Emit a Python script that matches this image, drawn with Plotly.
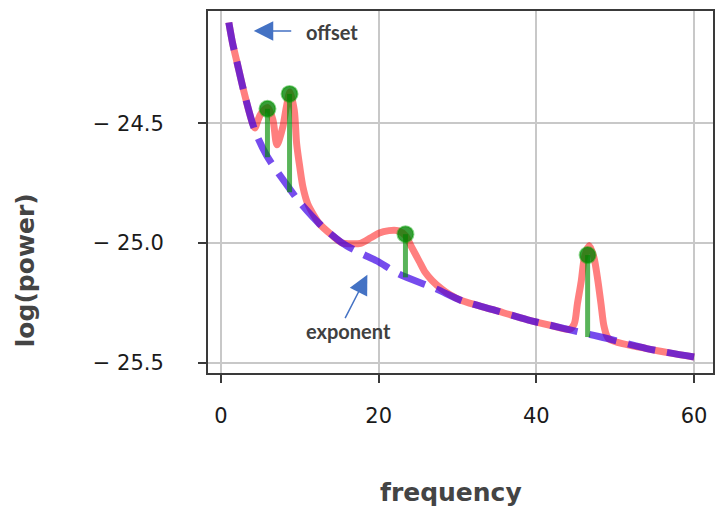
import plotly.graph_objects as go

# Aperiodic fit (offset / exponent component)
ap_freqs = [1, 1.5, 2, 3, 4.3, 5.8, 8.3, 10, 12.5, 15.4, 17.9, 19.8, 22.6,
            27.2, 30.5, 34.7, 38.9, 44, 47.3, 49.2, 54, 60]
ap_power = [-24.08, -24.17, -24.24, -24.38, -24.53, -24.635, -24.755, -24.83,
            -24.92, -25.00, -25.045, -25.075, -25.13, -25.19, -25.24, -25.28,
            -25.32, -25.36, -25.385, -25.40, -25.44, -25.475]

# Full model fit (aperiodic + peaks)
model_freqs = [1, 1.5, 2, 3, 4.0, 4.3, 4.7, 5.1, 5.95, 6.6, 7.1, 7.85, 8.3,
               8.75, 9.3, 9.6, 10.0, 10.4, 11.0, 11.8, 12.5, 14, 15.4, 16.3,
               17.7, 19.0, 20.0, 21.3, 22.4, 23.4, 24.2, 25.1, 25.9, 26.8,
               28.0, 29.0, 30.5, 34.7, 38.9, 42, 44.2, 44.8, 45.2, 45.7, 46.1,
               46.7, 47.3, 47.8, 48.2, 48.6, 49.2, 54, 60]
model_power = [-24.08, -24.17, -24.24, -24.38, -24.50, -24.52, -24.487,
               -24.459, -24.435, -24.487, -24.59, -24.515, -24.432, -24.37,
               -24.446, -24.585, -24.683, -24.766, -24.836, -24.885, -24.92,
               -24.965, -25.0, -25.003, -25.001, -24.978, -24.959, -24.948,
               -24.948, -24.969, -25.018, -25.073, -25.122, -25.157, -25.192,
               -25.215, -25.24, -25.28, -25.32, -25.345, -25.36, -25.338,
               -25.254, -25.157, -25.06, -25.01, -25.06, -25.157, -25.254,
               -25.35, -25.40, -25.44, -25.475]

# Detected peaks: centre frequency, peak power and aperiodic power beneath
peak_freqs = [5.9, 8.7, 23.4, 46.5]
peak_power = [-24.44, -24.378, -24.963, -25.05]
peak_base = [-24.642, -24.788, -25.143, -25.392]

x_tick_vals = [0, 20, 40, 60]
x_tick_text = ["0", "20", "40", "60"]
y_tick_vals = [-24.5, -25.0, -25.5]
y_tick_text = ["\u2212 24.5", "\u2212 25.0", "\u2212 25.5"]

fig = go.Figure()

fig.add_trace(go.Scatter(
    x=model_freqs, y=model_power, mode="lines",
    line=dict(color="rgba(255,0,0,0.5)", width=7, shape="spline", smoothing=0.8),
    hoverinfo="skip", showlegend=False))

fig.add_trace(go.Scatter(
    x=ap_freqs, y=ap_power, mode="lines",
    line=dict(color="rgba(60,0,230,0.7)", width=7, dash="28px,12px",
              shape="spline", smoothing=0.8),
    hoverinfo="skip", showlegend=False))

# vertical stems from aperiodic fit to each peak
stem_x, stem_y = [], []
for f, top, base in zip(peak_freqs, peak_power, peak_base):
    stem_x += [f, f, None]
    stem_y += [base, top, None]
fig.add_trace(go.Scatter(
    x=stem_x, y=stem_y, mode="lines",
    line=dict(color="rgba(0,140,0,0.65)", width=5),
    hoverinfo="skip", showlegend=False))

fig.add_trace(go.Scatter(
    x=peak_freqs, y=peak_power, mode="markers",
    marker=dict(size=16, color="rgba(0,128,0,0.78)",
                line=dict(color="rgba(0,160,0,0.45)", width=2)),
    hoverinfo="skip", showlegend=False))

arrow_color = "#4472C4"
label_font = dict(family="Lato", size=20, color="#404040")

fig.add_annotation(x=4.16, y=-24.115, ax=39, ay=0, text="",
                   showarrow=True, arrowhead=2, arrowsize=2.6,
                   arrowwidth=1.5, arrowcolor=arrow_color)
fig.add_annotation(x=14.05, y=-24.12, text="<b>offset</b>", showarrow=False,
                   font=label_font, xanchor="center", yanchor="middle")

fig.add_annotation(x=18.57, y=-25.132, ax=-23, ay=45, text="",
                   showarrow=True, arrowhead=2, arrowsize=2.6,
                   arrowwidth=1.5, arrowcolor=arrow_color)
fig.add_annotation(x=16.18, y=-25.365, text="<b>exponent</b>", showarrow=False,
                   font=label_font, xanchor="center", yanchor="middle")

# axis titles
title_font = dict(family="DejaVu Sans", size=25, color="#444444")
fig.add_annotation(xref="paper", yref="paper", x=-0.362, y=0.2845,
                   text="<b>log(power)</b>", textangle=-90, showarrow=False,
                   font=title_font, xanchor="center", yanchor="middle")
fig.add_annotation(xref="paper", yref="paper", x=0.481, y=-0.331,
                   text="<b>frequency</b>", showarrow=False,
                   font=title_font, xanchor="center", yanchor="middle")

axis_common = dict(
    showline=True, mirror=True, linecolor="#3a3a3a", linewidth=2,
    showgrid=True, gridcolor="#c8c8c8", gridwidth=2, zeroline=False,
    ticks="outside", ticklen=8, tickwidth=2, tickcolor="#3a3a3a",
    tickfont=dict(family="DejaVu Sans", size=21, color="#1a1a1a"),
)

fig.update_xaxes(range=[-1.64, 62.4], tickvals=x_tick_vals, ticktext=x_tick_text,
                 ticklabelstandoff=15, **axis_common)
fig.update_yaxes(range=[-25.542, -24.032], tickvals=y_tick_vals,
                 ticktext=y_tick_text, ticklabelstandoff=30, **axis_common)

fig.update_layout(
    width=718, height=514,
    margin=dict(l=208, r=3, t=11, b=141),
    plot_bgcolor="white", paper_bgcolor="white",
)

fig.write_html("out.html")
